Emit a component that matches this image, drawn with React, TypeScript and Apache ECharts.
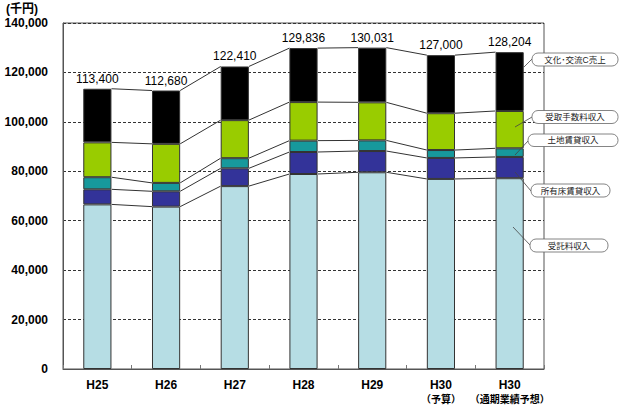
import React, { useEffect, useRef } from "react";
import * as echarts from "echarts";

const categories = ["H25", "H26", "H27", "H28", "H29", "H30\n（予算）", "H30\n（通期業績予想）"];
const seriesNames = ["受託料収入", "所有床賃貸収入", "土地賃貸収入", "受取手数料収入", "文化･交流C売上"];
const itakuryo = [66600, 65700, 74000, 78900, 79600, 76900, 77200];
const shoyuyuka = [6100, 6200, 7200, 8900, 8600, 8500, 8600];
const tochi = [4900, 3400, 4100, 4600, 4300, 3200, 3500];
const tesuryo = [14100, 15800, 15400, 15600, 15400, 14900, 15100];
const bunka = [21700, 21580, 21710, 21836, 22131, 23500, 23804];
const totals = [113400, 112680, 122410, 129836, 130031, 127000, 128204];
const colors = ["#b6dde4", "#333399", "#17999c", "#99cc00", "#000000"];
const yTicks = [0, 20000, 40000, 60000, 80000, 100000, 120000, 140000];

const FONT = "'Liberation Sans', Arial, 'Noto Sans CJK JP', sans-serif";
const BAR_RATIO = 0.41;

export default function App() {
  const ref = useRef<HTMLDivElement>(null);
  useEffect(() => {
    if (!ref.current) return;
    const chart = echarts.init(ref.current, null, { renderer: "svg" });
    const stacks = [itakuryo, shoyuyuka, tochi, tesuryo, bunka];
    const cum = (k: number, i: number) => {
      let s = 0;
      for (let j = 0; j <= k; j++) s += stacks[j][i];
      return s;
    };
    const barSeries = stacks.map((d, k) => ({
      name: seriesNames[k],
      type: "bar",
      stack: "total",
      data: d,
      barWidth: BAR_RATIO * 100 + "%",
      itemStyle: { color: colors[k], borderColor: "#333", borderWidth: 1 },
      label:
        k === 4
          ? {
              show: true,
              position: "top",
              distance: 4,
              color: "#000",
              fontSize: 12,
              fontFamily: FONT,
              formatter: (p: any) => totals[p.dataIndex].toLocaleString("en-US"),
            }
          : { show: false },
      z: 3,
    }));

    const connector = {
      type: "custom",
      coordinateSystem: "cartesian2d",
      data: categories.slice(0, categories.length - 1).map((_, i) => [i, 0]),
      encode: { x: 0, y: 1 },
      silent: true,
      z: 2,
      renderItem: (params: any, api: any) => {
        const i = api.value(0);
        const bw = api.size([1, 0])[0] * BAR_RATIO;
        const children: any[] = [];
        for (let k = 0; k < stacks.length; k++) {
          const p1 = api.coord([i, cum(k, i)]);
          const p2 = api.coord([i + 1, cum(k, i + 1)]);
          children.push({
            type: "line",
            shape: { x1: p1[0] + bw / 2, y1: p1[1], x2: p2[0] - bw / 2, y2: p2[1] },
            style: { stroke: "#333", lineWidth: 1 },
          });
        }
        return { type: "group", children };
      },
    };

    const callouts = [
      { text: seriesNames[4], x: 532, y: 53, w: 86, h: 13, from: [532, 59], to: [524, 67] },
      { text: seriesNames[3], x: 532, y: 110.5, w: 86, h: 13, from: [532, 117], to: [515, 127] },
      { text: seriesNames[2], x: 528, y: 134, w: 90, h: 12.5, from: [528, 141], to: [515, 155] },
      { text: seriesNames[1], x: 531, y: 184, w: 79, h: 13, from: [531, 191], to: [515, 172] },
      { text: seriesNames[0], x: 530, y: 239, w: 78, h: 13, from: [530, 245], to: [513, 227] },
    ];
    const graphics: any[] = [
      {
        type: "text",
        left: 6,
        top: 3,
        style: { text: "(千円)", fontSize: 12, fontWeight: "bold", fill: "#000", fontFamily: FONT },
      },
    ];
    callouts.forEach((c) => {
      graphics.push({
        type: "line",
        shape: { x1: c.from[0], y1: c.from[1], x2: c.to[0], y2: c.to[1] },
        style: { stroke: "#444", lineWidth: 0.8 },
        z: 10,
      });
      graphics.push({
        type: "rect",
        shape: { x: c.x, y: c.y, width: c.w, height: c.h, r: 6 },
        style: { fill: "#fff", stroke: "#666", lineWidth: 0.8 },
        z: 10,
      });
      graphics.push({
        type: "text",
        x: c.x + c.w / 2,
        y: c.y + c.h / 2,
        style: {
          text: c.text,
          fontSize: 8.5,
          fill: "#222",
          align: "center",
          verticalAlign: "middle",
          fontFamily: FONT,
        },
        z: 11,
      });
    });

    chart.setOption({
      animation: false,
      backgroundColor: "#fff",
      grid: {
        left: 63,
        right: 76,
        top: 23,
        bottom: 37,
        show: true,
        borderColor: "#555",
        borderWidth: 1,
      },
      xAxis: {
        type: "category",
        data: categories,
        axisLine: { show: true, lineStyle: { color: "#555", width: 1 } },
        axisTick: { show: true, inside: true, length: 4, lineStyle: { color: "#777" } },
        axisLabel: {
          interval: 0,
          margin: 9,
          color: "#000",
          fontFamily: FONT,
          formatter: (v: string) => {
            const [a, b] = v.split("\n");
            return b ? `{a|${a}}\n{b|${b}}` : `{a|${a}}`;
          },
          rich: {
            a: { fontSize: 12, fontWeight: "bold", lineHeight: 14, fontFamily: FONT },
            b: { fontSize: 10, fontWeight: "bold", lineHeight: 14, fontFamily: FONT },
          },
        },
      },
      yAxis: {
        type: "value",
        min: yTicks[0],
        max: yTicks[yTicks.length - 1],
        interval: yTicks[1] - yTicks[0],
        axisLine: { show: true, lineStyle: { color: "#555", width: 1 } },
        axisTick: { show: false },
        axisLabel: {
          margin: 15,
          color: "#000",
          fontSize: 12,
          fontWeight: "bold",
          fontFamily: FONT,
          formatter: (v: number) => v.toLocaleString("en-US"),
        },
        splitLine: { show: true, lineStyle: { color: "#333", type: [3, 2], width: 1 } },
      },
      series: [...barSeries, connector],
      graphic: graphics,
    });
    return () => chart.dispose();
  }, []);
  return (
    <div
      ref={ref}
      style={{ position: "fixed", left: 0, top: 0, width: 620, height: 406, background: "#fff" }}
    />
  );
}
